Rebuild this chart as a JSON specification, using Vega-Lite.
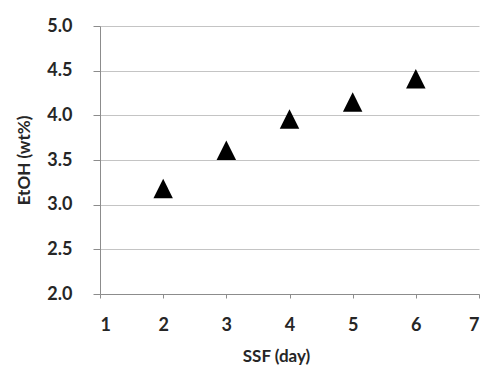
{
  "$schema": "https://vega.github.io/schema/vega-lite/v6.json",
  "width": 379,
  "height": 268,
  "autosize": {"type": "none"},
  "padding": {"left": 100, "top": 26, "right": 7, "bottom": 74},
  "background": "white",
  "data": {
    "values": [
      {"day": 2, "etoh": 3.18},
      {"day": 3, "etoh": 3.61},
      {"day": 4, "etoh": 3.96},
      {"day": 5, "etoh": 4.15},
      {"day": 6, "etoh": 4.41}
    ]
  },
  "config": {
    "view": {"stroke": null},
    "font": "Lato"
  },
  "mark": {"type": "point", "shape": "M0,-1L1,1L-1,1Z", "filled": true, "color": "#000000", "opacity": 1, "size": 380},
  "encoding": {
    "x": {
      "field": "day",
      "type": "quantitative",
      "scale": {"domain": [1, 7], "nice": false, "zero": false},
      "axis": {
        "title": "SSF (day)",
        "values": [1, 2, 3, 4, 5, 6, 7],
        "format": "d",
        "grid": false,
        "domainColor": "#8c8c8c",
        "tickColor": "#8c8c8c",
        "tickSize": 4,
        "labelFont": "Lato",
        "labelFontWeight": "bold",
        "labelFontSize": 18,
        "labelColor": "#262626",
        "labelPadding": 18,
        "titleFont": "Lato",
        "titleFontWeight": "bold",
        "titleFontSize": 17,
        "titleColor": "#262626",
        "titleX": 176,
        "titleY": 67,
        "titleBaseline": "alphabetic",
        "titleAlign": "center"
      }
    },
    "y": {
      "field": "etoh",
      "type": "quantitative",
      "scale": {"domain": [2, 5], "nice": false, "zero": false},
      "axis": {
        "title": "EtOH (wt%)",
        "values": [2, 2.5, 3, 3.5, 4, 4.5, 5],
        "format": ".1f",
        "grid": true,
        "gridColor": "#c4c4c4",
        "gridWidth": 1,
        "domainColor": "#8c8c8c",
        "tickColor": "#8c8c8c",
        "tickSize": 7,
        "labelFont": "Lato",
        "labelFontWeight": "bold",
        "labelFontSize": 18,
        "labelColor": "#262626",
        "labelPadding": 21,
        "titleFont": "Lato",
        "titleFontWeight": "bold",
        "titleFontSize": 17,
        "titleColor": "#262626",
        "titleAngle": -90,
        "titleX": -76,
        "titleY": 134,
        "titleBaseline": "middle",
        "titleAlign": "center"
      }
    }
  }
}
